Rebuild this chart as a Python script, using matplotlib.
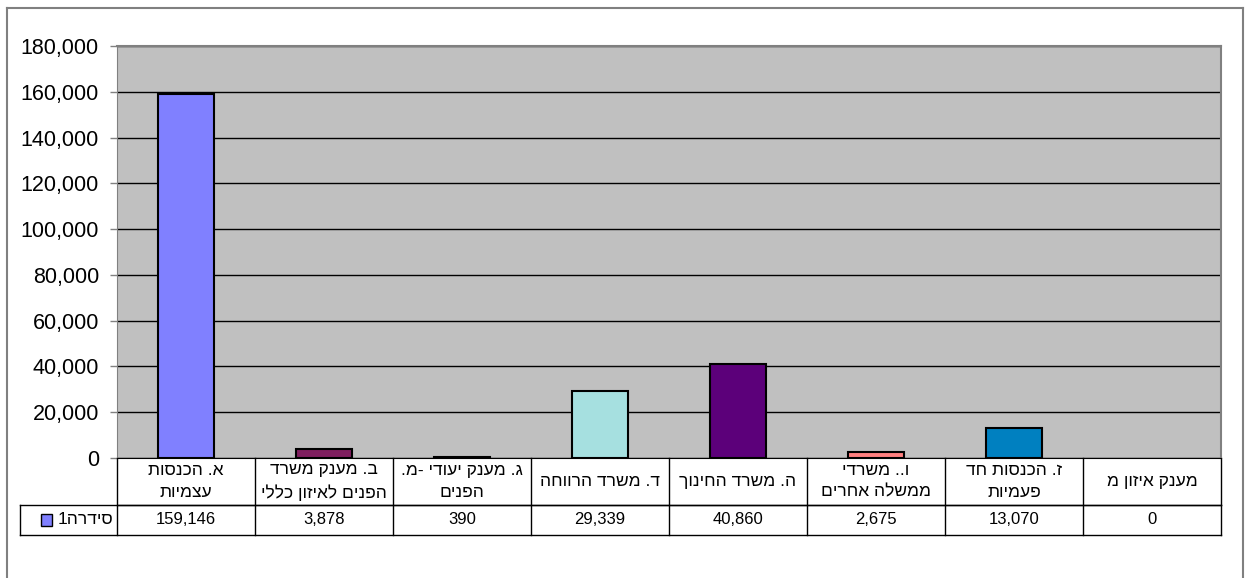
import re

import matplotlib.pyplot as plt
from matplotlib.patches import Rectangle
from matplotlib.ticker import FuncFormatter

plt.rcParams["font.family"] = ["Liberation Sans", "DejaVu Sans"]

CATEGORIES = [
    "א. הכנסות\nעצמיות",
    "ב. מענק משרד\nהפנים לאיזון כללי",
    "ג. מענק יעודי -מ.\nהפנים",
    "ד. משרד הרווחה",
    "ה. משרד החינוך",
    "ו.. משרדי\nממשלה אחרים",
    "ז. הכנסות חד\nפעמיות",
    "מענק איזון מ",
]
VALUES = [159146, 3878, 390, 29339, 40860, 2675, 13070, 0]
SERIES_NAME = "סידרה1"
Y_TICKS = list(range(0, 180001, 20000))

BAR_COLORS = [
    "#8080FF", "#7F1F5F", "#FFFFC0", "#A6E0E0",
    "#5C007A", "#FF8080", "#0080C0", "#C0C0FF",
]


def visual(text):
    """Hebrew line -> left-to-right glyph order (matplotlib has no bidi)."""
    out = []
    for line in text.split("\n"):
        parts = re.findall(r"[0-9]+|[^0-9]", line)
        out.append("".join(reversed(parts)))
    return "\n".join(out)


W, H = 1250, 578
fig = plt.figure(figsize=(W / 100, H / 100), dpi=100)

# outer chart frame (open at the bottom, like the source)
frame_kw = dict(color="#808080", lw=1.5)
fig.add_artist(plt.Line2D([7 / W, 7 / W], [0, 1 - 8 / H], **frame_kw))
fig.add_artist(plt.Line2D([1243 / W, 1243 / W], [0, 1 - 8 / H], **frame_kw))
fig.add_artist(plt.Line2D([7 / W, 1243 / W], [1 - 8 / H, 1 - 8 / H], **frame_kw))

left, right, top, bottom = 117, 1221, 46, 458
ax = fig.add_axes([left / W, 1 - bottom / H, (right - left) / W, (bottom - top) / H])
ax.set_facecolor("#C0C0C0")

x = list(range(len(VALUES)))
edge_w = [1.5 if v > 0 else 0 for v in VALUES]
ax.bar(x, VALUES, width=0.4, color=BAR_COLORS, edgecolor="black",
       linewidth=edge_w, zorder=3)

ax.set_xlim(-0.5, len(VALUES) - 0.5)
ax.set_ylim(0, 180000)
ax.set_yticks(Y_TICKS)
ax.yaxis.set_major_formatter(FuncFormatter(lambda v, p: f"{int(v):,}"))
ax.tick_params(axis="y", labelsize=15.5, length=5, width=1, color="#808080", pad=8)
ax.set_xticks([])
ax.grid(axis="y", color="black", linewidth=1, zorder=1)
ax.set_axisbelow(True)

for side in ["top", "right"]:
    ax.spines[side].set_color("#808080")
    ax.spines[side].set_linewidth(1.5)
ax.spines["left"].set_color("#808080")
ax.spines["bottom"].set_color("black")

# data table under the plot
trans = ax.get_xaxis_transform()
px_x = (right - left) / len(VALUES)
px_y = bottom - top
head_bot = -(505 - bottom) / px_y
data_bot = -(535 - bottom) / px_y
legend_left = -0.5 - (left - 20) / px_x

line_kw = dict(color="black", lw=1, transform=trans, clip_on=False)
ax.plot([-0.5, len(VALUES) - 0.5], [head_bot, head_bot], **line_kw)
ax.plot([legend_left, len(VALUES) - 0.5], [head_bot, head_bot], **line_kw)
ax.plot([legend_left, len(VALUES) - 0.5], [data_bot, data_bot], **line_kw)
for i in range(len(VALUES) + 1):
    ax.plot([i - 0.5, i - 0.5], [0, data_bot], **line_kw)
ax.plot([legend_left, legend_left], [head_bot, data_bot], **line_kw)

for i, (cat, val) in enumerate(zip(CATEGORIES, VALUES)):
    ax.text(i, head_bot / 2, visual(cat), transform=trans, ha="center", va="center",
            fontsize=12.5, linespacing=1.55, clip_on=False)
    ax.text(i, (head_bot + data_bot) / 2, f"{val:,}", transform=trans,
            ha="center", va="center", fontsize=12, clip_on=False)

mid_row = (head_bot + data_bot) / 2
ax.text(-0.5 - 4 / px_x, mid_row, visual(SERIES_NAME), transform=trans,
        ha="right", va="center", fontsize=12.5, clip_on=False)
ax.add_patch(Rectangle((-0.5 - 76 / px_x, mid_row - 6 / px_y), 11 / px_x, 12 / px_y,
                       transform=trans, facecolor=BAR_COLORS[0], edgecolor="black",
                       lw=1, clip_on=False))

fig.savefig("out.png", dpi=100)
